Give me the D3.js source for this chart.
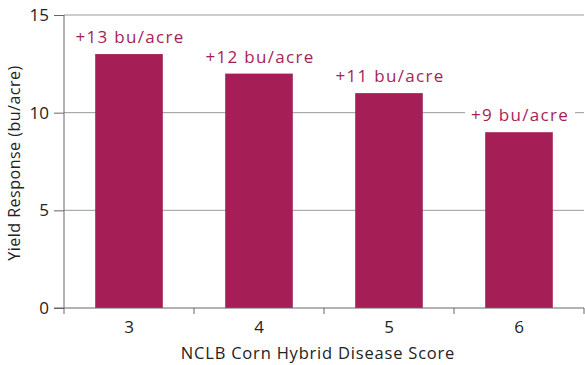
<!DOCTYPE html>
<html>
<head>
    <title>yield response</title>
    <script src="https://d3js.org/d3.v7.min.js"></script>
    <style>
        body { margin: 0; background: #fff; }
        text { font-family: "Open Sans", sans-serif; }
        .grid line { stroke: #9a9a9a; stroke-width: 1; }
        .axis path, .axis line { stroke: #666; }
        .axis text { font-size: 17px; fill: #222; font-family: "Open Sans", sans-serif; }
        .bar { fill: #a51e55; }
        .bar-label { font-size: 17px; fill: #a51e55; letter-spacing: 1.3px; }
        .title { font-size: 16.5px; fill: #222; letter-spacing: 0.8px; }
        .ytitle { letter-spacing: 0.5px; font-size: 16px; }
    </style>
</head>
<body>
<script>
    var scores = ["3", "4", "5", "6"];
    var response = [13, 12, 11, 9];
    var labels = ["+13 bu/acre", "+12 bu/acre", "+11 bu/acre", "+9 bu/acre"];
    var yTicks = [0, 5, 10, 15];

    var width = 585, height = 365;
    var margin = {top: 15, right: 1, bottom: 57, left: 64};

    var svg = d3.select("body").append("svg")
        .attr("width", width)
        .attr("height", height);

    var x = d3.scaleBand()
        .domain(scores)
        .range([margin.left, width - margin.right])
        .paddingInner(0.48)
        .paddingOuter(0.24);

    var y = d3.scaleLinear()
        .domain([0, 15])
        .range([height - margin.bottom, margin.top]);

    // gridlines
    svg.append("g").attr("class", "grid")
        .selectAll("line")
        .data(yTicks.filter(function (d) { return d > 0; }))
        .enter().append("line")
        .attr("x1", margin.left).attr("x2", width - margin.right)
        .attr("y1", function (d) { return y(d); })
        .attr("y2", function (d) { return y(d); });

    svg.selectAll(".bar")
        .data(response)
        .enter().append("rect")
        .attr("class", "bar")
        .attr("x", function (d, i) { return x(scores[i]); })
        .attr("width", x.bandwidth())
        .attr("y", function (d) { return y(d); })
        .attr("height", function (d) { return y(0) - y(d); });

    // labels with white backing so gridlines break behind them
    var lab = svg.selectAll(".lab")
        .data(response)
        .enter().append("g")
        .attr("class", "lab");

    lab.append("text")
        .attr("class", "bar-label")
        .attr("text-anchor", "middle")
        .attr("x", function (d, i) { return x(scores[i]) + x.bandwidth() / 2 + 1; })
        .attr("y", function (d) { return y(d) - 11; })
        .text(function (d, i) { return labels[i]; });

    lab.each(function () {
        var g = d3.select(this);
        var bb = g.select("text").node().getBBox();
        g.insert("rect", "text")
            .attr("x", bb.x - 6).attr("y", bb.y)
            .attr("width", bb.width + 12).attr("height", bb.height)
            .attr("fill", "#fff");
    });

    // axes
    var yAxis = svg.append("g").attr("class", "axis")
        .attr("transform", "translate(" + margin.left + ",0)")
        .call(d3.axisLeft(y).tickValues(yTicks).tickSize(10).tickPadding(5).tickSizeOuter(0));
    yAxis.select(".domain").attr("d", "M0," + y(0) + "V" + y(15));

    var xAxis = svg.append("g").attr("class", "axis")
        .attr("transform", "translate(0," + y(0) + ")")
        .call(d3.axisBottom(x).tickSize(0).tickPadding(13));
    xAxis.select(".domain").remove();
    xAxis.append("line")
        .attr("x1", margin.left - 10).attr("x2", width - margin.right)
        .attr("y1", 0).attr("y2", 0).attr("stroke", "#666");

    var step = x.step();
    xAxis.selectAll(".sep")
        .data(d3.range(scores.length + 1))
        .enter().append("line")
        .attr("class", "sep")
        .attr("x1", function (d) { return margin.left + d * step; })
        .attr("x2", function (d) { return margin.left + d * step; })
        .attr("y1", 0).attr("y2", 6)
        .attr("stroke", "#666");

    svg.append("text").attr("class", "title")
        .attr("text-anchor", "middle")
        .attr("x", 318)
        .attr("y", 359)
        .text("NCLB Corn Hybrid Disease Score");

    svg.append("text").attr("class", "title ytitle")
        .attr("text-anchor", "middle")
        .attr("transform", "translate(20,163) rotate(-90)")
        .text("Yield Response (bu/acre)");
</script>
</body>
</html>
